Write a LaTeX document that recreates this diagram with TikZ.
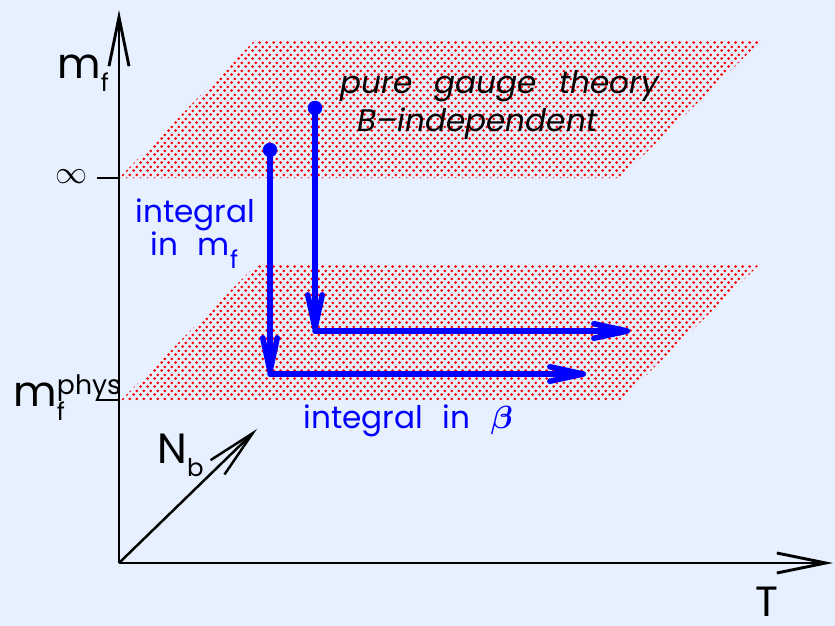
\documentclass[tikz,border=0pt]{standalone}
\usepackage{amsmath, amssymb, bm}
\usepackage{fontspec}
\setmainfont{Poppins}[WordSpace=2.4]
\usepackage{tikz}
\usetikzlibrary{arrows.meta, positioning, calc, patterns}
\definecolor{bgblue}{RGB}{230,240,254}
% lowered subscript and raised superscript
\newcommand{\lsub}[1]{\raisebox{-6pt}{\fontsize{11}{11}\selectfont #1}}
\newcommand{\lsup}[1]{\raisebox{5.5pt}{\fontsize{12}{12}\selectfont #1}}
% red dot grain of the planes
\pgfdeclarepatternformonly{reddots}{\pgfqpoint{-0.75pt}{-0.75pt}}{\pgfqpoint{2.25pt}{2.85pt}}{\pgfqpoint{3pt}{3.6pt}}{%
  \pgfpathcircle{\pgfqpoint{0pt}{0pt}}{.7pt}%
  \pgfpathcircle{\pgfqpoint{1.5pt}{1.8pt}}{.7pt}%
  \pgfusepath{fill}}

\begin{document}
\begin{tikzpicture}[x=0.158mm, y=-0.158mm,
    axisline/.style={line width=1.3pt, -{Straight Barb[length=22pt, width=9pt]}},
    plane/.style={pattern=reddots, pattern color=red},
    flow/.style={blue, line width=2.5pt, line cap=round, -{Straight Barb[length=15pt, width=6.5pt, round]}},
    dot/.style={circle, fill=blue, inner sep=0pt, minimum size=6.5pt},
    lab/.style={font=\fontsize{19}{22}\selectfont, inner sep=0pt},
    note/.style={font=\fontsize{14}{17}\selectfont, inner sep=0pt}]
  % Background
  \fill[bgblue] (0,0) rectangle (835,626);
  \useasboundingbox (0,0) rectangle (835,626);

  % Planes at m_f = infinity and m_f = physical
  \fill[plane] (119,178) -- (620,178) -- (762,40) -- (255,40) -- cycle;
  \fill[plane] (121,400) -- (621,400) -- (760,264) -- (257,264) -- cycle;

  % Axes
  \coordinate (O) at (119,563);
  \coordinate (ytip) at (119,10);
  \coordinate (xtip) at (833,563);
  \coordinate (ztip) at (257,429);
  \draw[axisline] (O) -- (ytip);
  \draw[axisline] (O) -- (xtip);
  \draw[axisline, line width=1.1pt] (O) -- (ztip);

  % Ticks
  \coordinate (tinf) at (119,178);
  \coordinate (tphys) at (119,400);
  \draw[line width=1.3pt] (tinf) -- ++(-22,0);
  \draw[line width=1.3pt] (tphys) -- ++(-22,0);

  % Axis labels
  \node[lab, anchor=base west] (mf) at (57,78) {m\lsub{f}};
  \node[font=\fontsize{15}{17}\selectfont] (inf) at (72,177) {$\infty$};
  \node[lab, anchor=base west] (mphys) at (13,407) {m\rlap{\lsub{f}}\lsup{phys}};
  \node[lab, anchor=base west] (Nb) at (157,463) {N\lsub{b}};
  \node[lab, anchor=base] (T) at (767,617) {T};

  % Paths of integration
  \node[dot] (dotL) at (270,150) {};
  \node[dot] (dotR) at (315,108) {};
  \coordinate (cornL) at (270,374);
  \coordinate (cornR) at (315,331);
  \coordinate (endL) at (586,374);
  \coordinate (endR) at (630,331);
  \draw[flow] (dotL.center) -- (cornL);
  \draw[flow] (cornL) -- (endL);
  \draw[flow] (dotR.center) -- (cornR);
  \draw[flow] (cornR) -- (endR);

  % Texts
  \node[note, blue, anchor=base west] (intmf) at (135,223) {integral};
  \node[note, blue, anchor=base west] (inmf) at (150,255) {in m\lsub{f}};
  \node[note, blue, anchor=base west] (intbeta) at (303,428) {integral in $\bm{\beta}$};
  \node[note, anchor=base west, font=\fontsize{14}{17}\selectfont\itshape] (gauge) at (340,93) {pure gauge theory};
  \node[note, anchor=base west, font=\fontsize{14}{17}\selectfont\itshape] (indep) at (357,132) {B–independent};
\end{tikzpicture}
\end{document}
